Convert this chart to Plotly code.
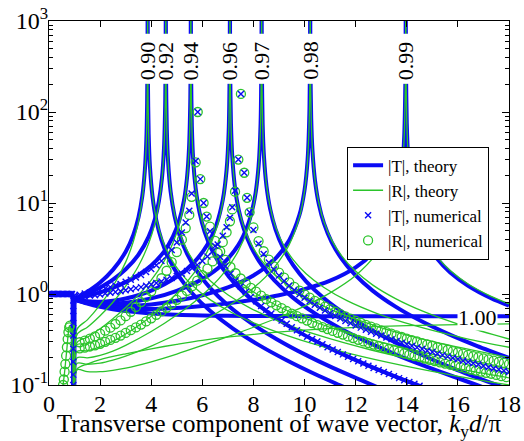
import math
import plotly.graph_objects as go

BLUE = "#0b0bf5"
GREEN = "#2bc42b"
FONT = "Liberation Serif, Times New Roman, serif"

# ---------------- theory |T| (thick blue) ----------------
T_prop_x = [0.0, 0.92, 0.95, 0.97, 0.99, 1.0]
T_prop_y = [1.0, 1.0, 0.03, 0.03, 0.03, 0.87]

T090_x = [1.0, 1.5, 2.0, 2.5, 3.0, 3.3, 3.5, 3.65, 3.75, 3.81, 3.84, 3.855, 3.86,
          3.865, 3.87, 3.9, 3.95, 4.05, 4.2, 4.4, 4.7, 5.1, 5.6, 6.3, 7.2, 8.2, 9.3, 10.4, 11.5, 12.0]
T090_y = [0.874, 1.06, 1.34, 1.84, 2.91, 4.46, 6.94, 11.9, 22.7, 50, 125, 500, 5000,
          460, 230, 57.2, 25.2, 11.8, 6.43, 3.93, 2.41, 1.54, 1.02, 0.653, 0.417, 0.276, 0.187, 0.132, 0.096, 0.083]

T092_x = [1.0, 1.5, 2.0, 2.5, 3.0, 3.5, 3.9, 4.15, 4.3, 4.42, 4.5, 4.55, 4.565, 4.57,
          4.575, 4.58, 4.61, 4.66, 4.76, 4.91, 5.11, 5.41, 5.81, 6.31, 7.01, 7.91, 8.91, 10.01, 11.11, 12.21, 13.11]
T092_y = [0.87, 1.0, 1.18, 1.44, 1.87, 2.70, 4.27, 6.75, 10.5, 18.8, 40.1, 140, 560, 5000,
          520, 260, 64.6, 28.5, 13.3, 7.28, 4.45, 2.74, 1.75, 1.16, 0.748, 0.479, 0.319, 0.217, 0.154, 0.113, 0.088]

T094_x = [1.0, 1.5, 2.0, 2.5, 3.0, 3.5, 4.0, 4.5, 4.85, 5.1, 5.28, 5.4, 5.48, 5.53, 5.545, 5.55,
          5.555, 5.56, 5.59, 5.64, 5.74, 5.89, 6.09, 6.39, 6.79, 7.29, 7.99, 8.89, 9.89, 10.99, 12.09, 13.19, 14.29, 15.05]
T094_y = [0.87, 0.946, 1.04, 1.17, 1.35, 1.62, 2.06, 2.92, 4.26, 6.48, 10.6, 18.9, 40.3, 140, 560, 5000,
          560, 280, 69.6, 30.7, 14.4, 7.88, 4.83, 2.99, 1.92, 1.28, 0.836, 0.543, 0.367, 0.254, 0.183, 0.136, 0.103, 0.086]

T096_x = [1.0, 1.5, 2.0, 2.5, 3.0, 4.0, 5.0, 5.7, 6.2, 6.55, 6.8, 6.95, 7.03, 7.07, 7.08,
          7.085, 7.09, 7.12, 7.17, 7.27, 7.42, 7.62, 7.92, 8.32, 8.82, 9.52, 10.42, 11.42, 12.52, 13.62, 14.72, 15.82, 16.92, 17.58]
T096_y = [0.87, 0.83, 0.822, 0.842, 0.891, 1.09, 1.54, 2.27, 3.50, 5.75, 10.8, 23.2, 60, 300, 5000,
          600, 300, 74.6, 33.0, 15.4, 8.48, 5.22, 3.24, 2.09, 1.41, 0.924, 0.608, 0.416, 0.292, 0.213, 0.161, 0.124, 0.096, 0.084]

T097_x = [1.0, 1.5, 2.0, 2.5, 3.0, 4.0, 5.0, 6.0, 6.8, 7.4, 7.8, 8.05, 8.2, 8.28, 8.315, 8.32,
          8.325, 8.33, 8.36, 8.41, 8.51, 8.66, 8.86, 9.16, 9.56, 10.06, 10.76, 11.66, 12.66, 13.76, 14.86, 15.96, 17.06, 18.0]
T097_y = [0.87, 0.815, 0.789, 0.785, 0.803, 0.895, 1.085, 1.46, 2.14, 3.42, 5.93, 11.3, 25.2, 75, 600, 5000,
          600, 300, 74.6, 32.9, 15.4, 8.44, 5.18, 3.21, 2.06, 1.38, 0.899, 0.585, 0.396, 0.274, 0.198, 0.147, 0.112, 0.089]

T098_x = [1.0, 1.5, 2.0, 2.5, 3.0, 4.0, 5.0, 6.0, 7.0, 8.0, 8.8, 9.4, 9.8, 10.0, 10.12, 10.19, 10.215, 10.22,
          10.225, 10.23, 10.26, 10.31, 10.41, 10.56, 10.76, 11.06, 11.46, 11.96, 12.66, 13.56, 14.56, 15.66, 16.76, 18.0]
T098_y = [0.87, 0.804, 0.764, 0.744, 0.74, 0.768, 0.841, 0.967, 1.18, 1.60, 2.36, 3.90, 7.39, 13.9, 30.2, 100, 600, 5000,
          684, 342, 84.7, 37.4, 17.6, 9.66, 5.96, 3.72, 2.42, 1.64, 1.09, 0.726, 0.504, 0.360, 0.268, 0.199]

T099_x = [1.0, 1.5, 2.0, 2.5, 3.0, 4.0, 5.0, 6.0, 7.0, 8.0, 9.0, 10.0, 11.0, 12.0, 12.8, 13.3, 13.6, 13.8, 13.9, 13.945, 13.955, 13.96,
          13.965, 13.97, 14.0, 14.05, 14.15, 14.3, 14.5, 14.8, 15.2, 15.7, 16.4, 17.3, 18.0]
T099_y = [0.87, 0.795, 0.745, 0.712, 0.694, 0.685, 0.701, 0.736, 0.789, 0.863, 0.969, 1.13, 1.40, 1.96, 3.08, 5.17, 9.21, 20.3, 53.7, 213, 640, 5000,
          600, 300, 75, 33.3, 15.8, 8.8, 5.56, 3.57, 2.42, 1.72, 1.23, 0.898, 0.743]

T100_x = [1.0, 1.5, 2.0, 2.5, 3.0, 4.0, 5.0, 6.0, 7.0, 8.0, 10.0, 12.0, 14.0, 16.0, 18.0]
T100_y = [0.87, 0.785, 0.724, 0.68, 0.649, 0.611, 0.591, 0.581, 0.576, 0.573, 0.571, 0.57, 0.57, 0.57, 0.57]

# ---------------- theory |R| (thin green) ----------------
R_prop_x = [0.5, 0.55, 0.6, 0.65, 0.7, 0.75, 0.8, 0.85, 0.9, 0.94, 0.97, 1.0]
R_prop_y = [0.075, 0.1, 0.13, 0.18, 0.25, 0.36, 0.45, 0.42, 0.3, 0.15, 0.06, 0.08]

R090_x = [1.0, 1.1, 1.5, 2.0, 2.5, 3.0, 3.3, 3.5, 3.65, 3.75, 3.81, 3.84, 3.855, 3.86,
          3.87, 3.9, 3.95, 4.05, 4.2, 4.4, 4.7, 5.1, 5.6, 6.3, 7.2, 8.36, 9.86, 11.86, 13.86, 15.86, 18.0]
R090_y = [0.08, 0.411, 0.519, 0.758, 1.21, 2.24, 3.78, 6.24, 11.2, 22.0, 49, 124, 500, 5000,
          230, 57.5, 25.5, 12.1, 6.73, 4.2, 2.66, 1.78, 1.245, 0.867, 0.614, 0.438, 0.312, 0.218, 0.163, 0.127, 0.1]

R092_x = [1.0, 1.1, 1.5, 2.0, 2.5, 3.0, 3.5, 3.9, 4.15, 4.3, 4.42, 4.5, 4.55, 4.565, 4.57,
          4.58, 4.61, 4.66, 4.76, 4.91, 5.11, 5.41, 5.81, 6.31, 7.01, 7.91, 9.07, 10.57, 12.57, 14.57, 16.57, 18.0]
R092_y = [0.08, 0.36, 0.431, 0.577, 0.811, 1.22, 2.03, 3.58, 6.05, 9.8, 18.1, 39.3, 139, 560, 5000,
          260, 65, 28.9, 13.7, 7.65, 4.7, 3.0, 2.0, 1.40, 0.977, 0.691, 0.492, 0.35, 0.244, 0.182, 0.141, 0.12]

R094_x = [1.0, 1.1, 1.5, 2.0, 2.5, 3.0, 3.5, 4.0, 4.5, 4.85, 5.1, 5.28, 5.4, 5.48, 5.53, 5.545, 5.55,
          5.56, 5.59, 5.64, 5.74, 5.89, 6.09, 6.39, 6.79, 7.29, 7.99, 8.89, 10.05, 11.55, 13.55, 15.55, 18.0]
R094_y = [0.08, 0.294, 0.335, 0.415, 0.535, 0.709, 0.977, 1.42, 2.28, 3.63, 5.85, 9.98, 18.3, 39.6, 139, 560, 5000,
          280, 70, 31.1, 14.7, 8.24, 5.1, 3.24, 2.17, 1.52, 1.06, 0.752, 0.538, 0.384, 0.27, 0.202, 0.15]

R096_x = [1.0, 1.1, 1.5, 2.0, 2.5, 3.0, 4.0, 5.0, 5.7, 6.2, 6.55, 6.8, 6.95, 7.03, 7.07, 7.08,
          7.09, 7.12, 7.17, 7.27, 7.42, 7.62, 7.92, 8.32, 8.82, 9.52, 10.42, 11.58, 13.08, 15.08, 18.0]
R096_y = [0.08, 0.234, 0.238, 0.262, 0.302, 0.363, 0.57, 1.016, 1.735, 2.96, 5.21, 10.3, 22.7, 59.5, 300, 5000,
          300, 75, 33.3, 15.8, 8.82, 5.5, 3.49, 2.33, 1.64, 1.146, 0.815, 0.585, 0.42, 0.297, 0.2]

R097_x = [1.0, 1.1, 1.5, 2.0, 2.5, 3.0, 4.0, 5.0, 6.0, 6.8, 7.4, 7.8, 8.05, 8.2, 8.28, 8.315, 8.32,
          8.33, 8.36, 8.41, 8.51, 8.66, 8.86, 9.16, 9.56, 10.06, 10.76, 11.66, 12.82, 14.32, 16.32, 18.0]
R097_y = [0.08, 0.199, 0.199, 0.212, 0.236, 0.273, 0.387, 0.587, 0.970, 1.65, 2.94, 5.45, 10.8, 24.7, 74.5, 600, 5000,
          300, 75, 33.3, 15.8, 8.82, 5.5, 3.52, 2.37, 1.67, 1.18, 0.845, 0.614, 0.449, 0.324, 0.26]

R098_x = [1.0, 1.1, 1.5, 2.0, 2.5, 3.0, 4.0, 5.0, 6.0, 7.0, 8.0, 8.8, 9.4, 9.8, 10.0, 10.12, 10.19, 10.215, 10.22,
          10.23, 10.26, 10.31, 10.41, 10.56, 10.76, 11.06, 11.46, 11.96, 12.66, 13.56, 14.72, 16.22, 18.0]
R098_y = [0.08, 0.173, 0.169, 0.174, 0.188, 0.208, 0.268, 0.361, 0.502, 0.733, 1.166, 1.94, 3.49, 6.99, 13.5, 29.8, 99.5, 600, 5000,
          340, 85, 37.8, 17.9, 10.0, 6.2, 3.91, 2.61, 1.82, 1.26, 0.89, 0.631, 0.446, 0.32]

R099_x = [1.0, 1.1, 1.5, 2.0, 2.5, 3.0, 4.0, 5.0, 6.0, 7.0, 8.0, 9.0, 10.0, 11.0, 12.0, 12.8, 13.3, 13.6, 13.8, 13.9, 13.945, 13.955, 13.96,
          13.97, 14.0, 14.05, 14.15, 14.3, 14.5, 14.8, 15.2, 15.7, 16.4, 17.3, 18.0]
R099_y = [0.08, 0.147, 0.14, 0.14, 0.145, 0.153, 0.18, 0.219, 0.272, 0.34, 0.431, 0.555, 0.736, 1.03, 1.60, 2.74, 4.84, 8.89, 20.0, 53.5, 213, 640, 5000,
          315, 79, 35, 16.6, 9.26, 5.83, 3.75, 2.54, 1.81, 1.29, 0.943, 0.78]

R100_x = [1.0, 1.1, 1.5, 2.0, 3.0, 4.0, 5.0, 6.0, 8.0, 10.0, 12.0, 14.0, 16.0, 18.0]
R100_y = [0.08, 0.15, 0.17, 0.19, 0.22, 0.25, 0.28, 0.31, 0.36, 0.40, 0.43, 0.45, 0.46, 0.47]

# ---------------- numerical |T| (crosses) ----------------
Tn_prop_x = [0.0, 0.05, 0.1, 0.15, 0.2, 0.25, 0.3, 0.35, 0.4, 0.45, 0.5, 0.55, 0.6, 0.65, 0.7, 0.75, 0.8, 0.85, 0.9,
             0.95, 0.95, 0.95, 0.95, 0.95, 0.95, 0.95, 0.95]
Tn_prop_y = [1.0, 1.0, 1.0, 1.0, 1.0, 1.0, 1.0, 1.0, 1.0, 1.0, 1.0, 1.0, 1.0, 1.0, 1.0, 1.0, 1.0, 1.0, 1.0,
             0.85, 0.65, 0.48, 0.35, 0.25, 0.18, 0.13, 0.1]

TnA_x = [1.0, 1.2, 1.4, 1.6, 1.8, 2.0, 2.2, 2.4, 2.6, 2.8, 3.0, 3.2, 3.4, 3.6, 3.8, 4.0, 4.2, 4.4, 4.6, 4.8, 5.0, 5.2,
         5.35, 5.49, 5.58, 5.74, 5.82, 5.92, 6.05, 6.17,
         6.3, 6.5, 6.7, 6.9, 7.1, 7.3, 7.5, 7.7, 7.9, 8.1, 8.3, 8.5, 8.7, 8.9, 9.1, 9.3, 9.5, 9.7, 9.9, 10.1,
         10.3, 10.5, 10.7, 10.9, 11.1, 11.3, 11.5, 11.7, 11.9, 12.1, 12.3, 12.5, 12.7, 12.9, 13.1, 13.3, 13.5,
         13.7, 13.9, 14.1, 14.3, 14.5]
TnA_y = [0.96, 0.98, 1.01, 1.04, 1.07, 1.11, 1.15, 1.19, 1.24, 1.29, 1.36, 1.43, 1.52, 1.62, 1.74, 1.88, 2.07, 2.30, 2.61, 3.05, 3.69, 4.75,
         6.1, 8.2, 12.7, 29, 100, 18.3, 10, 7.1,
         4.9, 3.38, 2.55, 2.02, 1.67, 1.41, 1.21, 1.05, 0.93, 0.83, 0.74, 0.67, 0.61, 0.55, 0.51, 0.47, 0.43, 0.40, 0.37, 0.34,
         0.32, 0.30, 0.28, 0.26, 0.245, 0.23, 0.217, 0.204, 0.193, 0.182, 0.172, 0.163, 0.154, 0.146, 0.139, 0.132, 0.125,
         0.119, 0.113, 0.108, 0.103, 0.098]

TnB_x = [1.0, 1.2, 1.4, 1.6, 1.8, 2.0, 2.2, 2.4, 2.6, 2.8, 3.0, 3.2, 3.4, 3.6, 3.8, 4.0, 4.2, 4.4, 4.6, 4.8,
         5.0, 5.2, 5.4, 5.6, 5.8, 6.0, 6.2, 6.4, 6.6, 6.8, 6.95, 7.08, 7.17, 7.28, 7.41, 7.51, 7.64, 7.75, 7.85,
         8.0, 8.2, 8.4, 8.6, 8.8, 9.0, 9.2, 9.4, 9.6, 9.8, 10.0, 10.2, 10.4, 10.6, 10.8, 11.0, 11.2, 11.4, 11.6, 11.8,
         12.0, 12.2, 12.4, 12.6, 12.8, 13.0, 13.2, 13.4, 13.6, 13.8, 14.0, 14.2, 14.4, 14.6, 14.8, 15.0, 15.2, 15.4,
         15.6, 15.8, 16.0, 16.2, 16.4, 16.6, 16.8, 17.0, 17.2, 17.4, 17.6, 17.8, 18.0]
TnB_y = [0.92, 0.93, 0.94, 0.96, 0.97, 0.99, 1.01, 1.03, 1.05, 1.07, 1.10, 1.13, 1.16, 1.19, 1.23, 1.27, 1.32, 1.37, 1.43, 1.50,
         1.58, 1.67, 1.79, 1.92, 2.09, 2.30, 2.58, 2.95, 3.50, 4.36, 5.4, 6.9, 8.97, 13.6, 30, 158, 21.5, 11.4, 7.9,
         5.06, 3.57, 2.75, 2.22, 1.86, 1.60, 1.39, 1.23, 1.10, 0.996, 0.907, 0.830, 0.764, 0.707, 0.657, 0.613, 0.573, 0.538, 0.506, 0.477,
         0.451, 0.427, 0.405, 0.385, 0.366, 0.349, 0.333, 0.319, 0.305, 0.292, 0.280, 0.268, 0.258, 0.248, 0.238, 0.230, 0.221, 0.213,
         0.205, 0.198, 0.192, 0.185, 0.179, 0.173, 0.168, 0.162, 0.157, 0.152, 0.148, 0.143, 0.139]

# ---------------- numerical |R| (circles) ----------------
Rn_prop_x = [0.55, 0.58, 0.61, 0.64, 0.67, 0.7, 0.73, 0.76, 0.79, 0.82]
Rn_prop_y = [0.1, 0.115, 0.14, 0.17, 0.21, 0.26, 0.32, 0.38, 0.43, 0.45]

RnA_x = [1.2, 1.4, 1.6, 1.8, 2.0, 2.2, 2.4, 2.6, 2.8, 3.0, 3.2, 3.4, 3.6, 3.8, 4.0, 4.2, 4.4, 4.6, 4.8, 5.0, 5.2,
         5.35, 5.49, 5.58, 5.74, 5.82, 5.92, 6.05, 6.17,
         6.3, 6.5, 6.7, 6.9, 7.1, 7.3, 7.5, 7.7, 7.9, 8.1, 8.3, 8.5, 8.7, 8.9, 9.1, 9.3, 9.5, 9.7, 9.9, 10.1,
         10.3, 10.5, 10.7, 10.9, 11.1, 11.3, 11.5, 11.7, 11.9, 12.1, 12.3, 12.5, 12.7, 12.9, 13.1, 13.3, 13.5,
         13.7, 13.9, 14.1, 14.3, 14.5, 14.7, 14.9, 15.1, 15.3, 15.5, 15.7, 15.9, 16.1, 16.3, 16.5, 16.7, 16.9,
         17.1, 17.3, 17.5, 17.7, 17.9]
RnA_y = [0.295, 0.308, 0.323, 0.342, 0.366, 0.395, 0.427, 0.468, 0.513, 0.571, 0.638, 0.72, 0.816, 0.933, 1.07, 1.26, 1.49, 1.80, 2.24, 2.89, 3.95,
         5.3, 7.4, 11.7, 28, 100, 18.3, 10, 7.1,
         5.49, 3.84, 2.94, 2.37, 1.98, 1.69, 1.48, 1.31, 1.17, 1.06, 0.96, 0.88, 0.81, 0.75, 0.70, 0.65, 0.61, 0.57, 0.54, 0.51,
         0.48, 0.456, 0.433, 0.412, 0.393, 0.375, 0.358, 0.342, 0.328, 0.314, 0.301, 0.289, 0.278, 0.268, 0.258, 0.248, 0.240,
         0.231, 0.223, 0.216, 0.208, 0.202, 0.195, 0.189, 0.183, 0.177, 0.172, 0.167, 0.162, 0.157, 0.152, 0.148, 0.144, 0.140,
         0.136, 0.133, 0.129, 0.125, 0.122]

RnB_x = [1.2, 1.4, 1.6, 1.8, 2.0, 2.2, 2.4, 2.6, 2.8, 3.0, 3.2, 3.4, 3.6, 3.8, 4.0, 4.2, 4.4, 4.6, 4.8,
         5.0, 5.2, 5.4, 5.6, 5.8, 6.0, 6.2, 6.4, 6.6, 6.8, 6.95, 7.08, 7.17, 7.28, 7.41, 7.51, 7.64, 7.75, 7.85,
         8.0, 8.2, 8.4, 8.6, 8.8, 9.0, 9.2, 9.4, 9.6, 9.8, 10.0, 10.2, 10.4, 10.6, 10.8, 11.0, 11.2, 11.4, 11.6, 11.8,
         12.0, 12.2, 12.4, 12.6, 12.8, 13.0, 13.2, 13.4, 13.6, 13.8, 14.0, 14.2, 14.4, 14.6, 14.8, 15.0, 15.2, 15.4,
         15.6, 15.8, 16.0, 16.2, 16.4, 16.6, 16.8, 17.0, 17.2, 17.4, 17.6, 17.8, 18.0]
RnB_y = [0.252, 0.257, 0.265, 0.273, 0.284, 0.298, 0.313, 0.330, 0.349, 0.373, 0.400, 0.429, 0.461, 0.499, 0.541, 0.590, 0.644, 0.706, 0.780,
         0.863, 0.960, 1.08, 1.22, 1.40, 1.61, 1.90, 2.28, 2.84, 3.71, 4.76, 6.3, 8.5, 13.3, 30, 158, 21.5, 11.4, 7.9,
         5.39, 3.82, 2.95, 2.39, 2.01, 1.72, 1.51, 1.34, 1.20, 1.09, 0.993, 0.912, 0.842, 0.781, 0.728, 0.681, 0.638, 0.601, 0.567, 0.536,
         0.508, 0.483, 0.459, 0.437, 0.418, 0.399, 0.382, 0.366, 0.351, 0.337, 0.324, 0.312, 0.301, 0.289, 0.279, 0.270, 0.260, 0.252,
         0.244, 0.236, 0.229, 0.221, 0.214, 0.208, 0.202, 0.196, 0.191, 0.185, 0.180, 0.175, 0.170]

# ---------------- labels ----------------
PEAK_LABELS = ["0.90", "0.92", "0.94", "0.96", "0.97", "0.98", "0.99"]
PEAK_X = [3.86, 4.57, 5.55, 7.08, 8.32, 10.22, 13.96]
FLAT_LABEL = "1.00"
FLAT_LABEL_X = 16.75
FLAT_LABEL_Y = 0.545

X_TICKS = [0, 2, 4, 6, 8, 10, 12, 14, 16, 18]
Y_TICKS = [0.1, 1, 10, 100, 1000]
Y_TICKTEXT = ["10<sup>-1</sup>", "10<sup>0</sup>", "10<sup>1</sup>", "10<sup>2</sup>", "10<sup>3</sup>"]
Y_MINOR = [0.2, 0.3, 0.4, 0.5, 0.6, 0.7, 0.8, 0.9, 2, 3, 4, 5, 6, 7, 8, 9,
           20, 30, 40, 50, 60, 70, 80, 90, 200, 300, 400, 500, 600, 700, 800, 900]

T_curves = [(T_prop_x, T_prop_y), (T090_x, T090_y), (T092_x, T092_y), (T094_x, T094_y), (T096_x, T096_y),
            (T097_x, T097_y), (T098_x, T098_y), (T099_x, T099_y), (T100_x, T100_y)]
R_curves = [(R_prop_x, R_prop_y), (R090_x, R090_y), (R092_x, R092_y), (R094_x, R094_y), (R096_x, R096_y),
            (R097_x, R097_y), (R098_x, R098_y), (R099_x, R099_y), (R100_x, R100_y)]
Tn_sets = [(Tn_prop_x, Tn_prop_y), (TnA_x, TnA_y), (TnB_x, TnB_y)]
Rn_sets = [(Rn_prop_x, Rn_prop_y), (RnA_x, RnA_y), (RnB_x, RnB_y)]

for i, (a, b) in enumerate(T_curves + R_curves + Tn_sets + Rn_sets):
    assert len(a) == len(b), (i, len(a), len(b))

fig = go.Figure()

for i, (xs, ys) in enumerate(T_curves):
    fig.add_trace(go.Scatter(
        x=xs, y=ys, mode="lines", name="|T|, theory", legendgroup="Tt", legendrank=1,
        showlegend=(i == 1),
        line=dict(color=BLUE, width=4, shape="linear" if i == 0 else "spline", smoothing=0.8)))

for i, (xs, ys) in enumerate(R_curves):
    fig.add_trace(go.Scatter(
        x=xs, y=ys, mode="lines", name="|R|, theory", legendgroup="Rt", legendrank=2,
        showlegend=(i == 1),
        line=dict(color=GREEN, width=1.3, shape="spline", smoothing=0.8)))

for i, (xs, ys) in enumerate(Rn_sets):
    fig.add_trace(go.Scatter(
        x=xs, y=ys, mode="markers", name="|R|, numerical", legendgroup="Rn", legendrank=4,
        showlegend=(i == 1),
        marker=dict(symbol="circle-open", size=9, color=GREEN, line=dict(width=1.3, color=GREEN))))

for i, (xs, ys) in enumerate(Tn_sets):
    fig.add_trace(go.Scatter(
        x=xs, y=ys, mode="markers", name="|T|, numerical", legendgroup="Tn", legendrank=3,
        showlegend=(i == 1),
        marker=dict(symbol="x-thin-open", size=6, color=BLUE, line=dict(width=1.4, color=BLUE))))

# white gaps behind the rotated peak labels
for lab, xp in zip(PEAK_LABELS, PEAK_X):
    fig.add_shape(type="rect", xref="x", yref="y", x0=xp - 0.31, x1=xp + 0.31, y0=204, y1=724,
                  fillcolor="white", line=dict(width=0), layer="above")
    fig.add_annotation(x=xp, y=2.565, xref="x", yref="y", text=lab, showarrow=False,
                       textangle=-90, font=dict(family=FONT, size=22, color="black"))

fig.add_annotation(x=FLAT_LABEL_X, y=math.log10(FLAT_LABEL_Y), xref="x", yref="y", text=FLAT_LABEL,
                   showarrow=False, bgcolor="white", borderpad=0,
                   font=dict(family=FONT, size=22, color="black"))

fig.update_layout(
    width=524, height=441,
    margin=dict(l=49, r=15, t=21, b=56, autoexpand=False),
    paper_bgcolor="white", plot_bgcolor="white",
    font=dict(family=FONT, size=22, color="black"),
    legend=dict(x=0.648, y=0.655, xanchor="left", yanchor="top",
                bgcolor="white", bordercolor="black", borderwidth=1,
                font=dict(family=FONT, size=17, color="black"),
                tracegroupgap=0, itemwidth=30),
)
fig.update_xaxes(
    range=[0, 18], tickvals=X_TICKS, ticks="inside", ticklen=6, tickcolor="black",
    showline=True, linecolor="black", linewidth=1, mirror="ticks", automargin=False,
    showgrid=False, zeroline=False, tickfont=dict(family=FONT, size=24), ticklabelstandoff=-3,
    title=dict(text="Transverse component of wave vector, <i>k</i><sub>y</sub><i>d</i>/π",
               font=dict(family=FONT, size=25), standoff=0),
)
fig.update_yaxes(
    type="log", range=[-1, 3], tickvals=Y_TICKS, ticktext=Y_TICKTEXT,
    ticks="inside", ticklen=7, tickcolor="black",
    minor=dict(tickvals=Y_MINOR, ticks="inside", ticklen=4, tickcolor="black", showgrid=False),
    showline=True, linecolor="black", linewidth=1, mirror="ticks", automargin=False,
    showgrid=False, zeroline=False, tickfont=dict(family=FONT, size=24), ticklabelstandoff=-5,
)

fig.write_html("out.html", config={"displayModeBar": False},
               post_script="document.body.style.margin='0px';")
